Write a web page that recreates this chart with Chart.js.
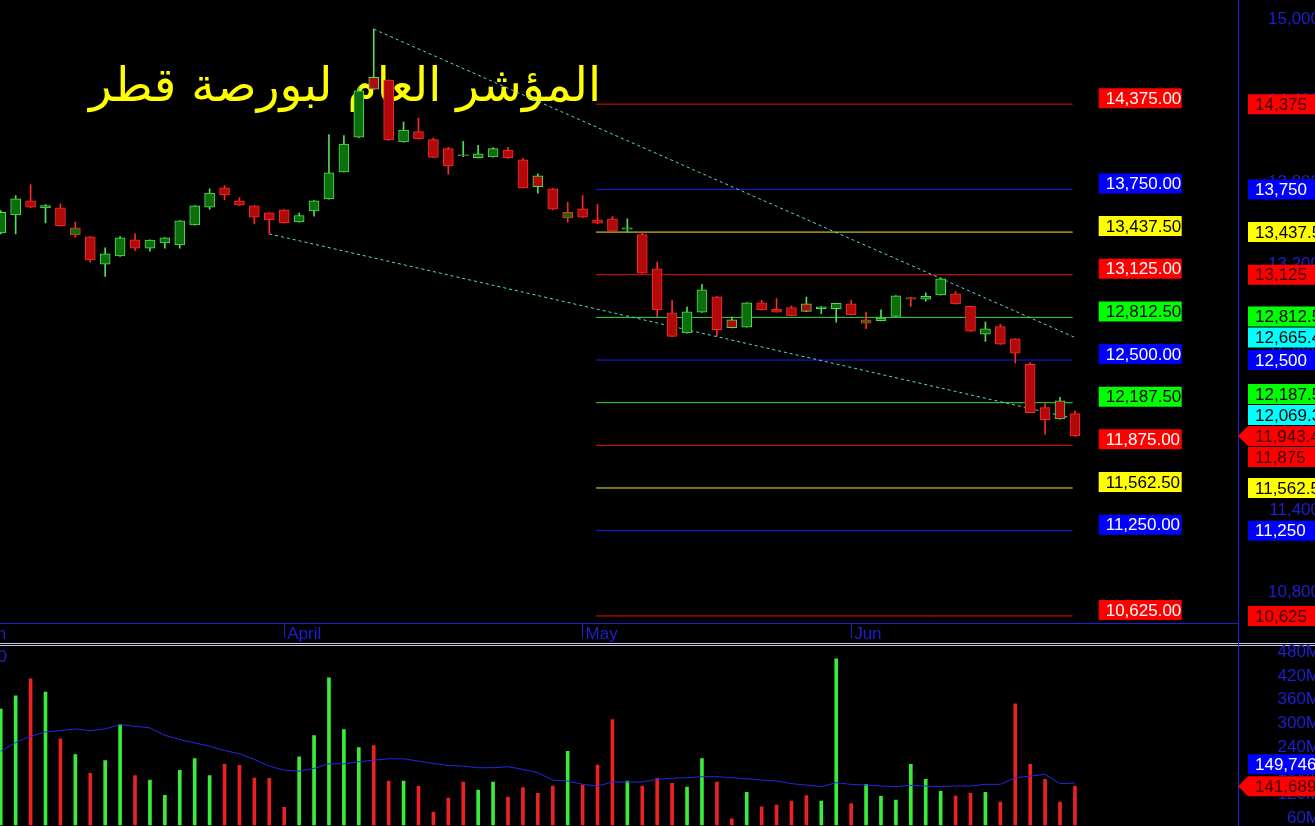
<!DOCTYPE html>
<html>
<head>
<meta charset="utf-8">
<script src="https://cdn.jsdelivr.net/npm/chart.js@4.4.1/dist/chart.umd.min.js"></script>
<style>
  html, body { margin: 0; padding: 0; background: #000; overflow: hidden; width: 1315px; height: 826px; }
  canvas { position: absolute; left: 0; }
  #price { top: 0; }
  #volume { top: 642px; }
</style>
</head>
<body>
<canvas id="price" width="1320" height="644"></canvas>
<canvas id="volume" width="1320" height="184"></canvas>
<script>
// ---- data ----
const title = 'المؤشر العام لبورصة قطر';

const opens  = [13432,13564,13666,13615,13615,13417,13403,13203,13263,13381,13320,13359,13344,13490,13620,13761,13666,13629,13578,13600,
                13512,13593,13681,13878,14132,14571,14551,14098,14173,14115,14049,14003,13983,13988,14039,13966,13849,13754,13541,13607,
                13527,13534,13459,13420,13168,12846,12698,12851,12963,12795,12741,12920,12871,12885,12912,12876,12876,12912,12771,12788,
                12820,12946,12946,12978,12985,12893,12690,12746,12656,12468,12151,12202,12107];
const highs  = [13595,13705,13785,13639,13644,13510,13405,13322,13405,13424,13380,13397,13522,13631,13754,13778,13690,13631,13580,13602,
                13576,13668,14151,14144,14498,14924,14553,14244,14273,14127,14059,14102,14073,14056,14059,13978,13864,13756,13656,13705,
                13639,13551,13534,13432,13217,12937,12888,13054,12965,12815,12921,12937,12951,12898,12961,12892,12916,12937,12851,12868,
                12972,12960,12993,13102,13002,12895,12778,12761,12658,12481,12181,12227,12127];
const lows   = [13424,13424,13615,13505,13480,13400,13217,13112,13260,13302,13298,13320,13320,13488,13603,13673,13632,13498,13424,13503,
                13510,13554,13678,13876,14130,14483,14110,14096,14118,13983,13861,13990,13981,13986,13978,13759,13722,13602,13510,13544,
                13500,13442,13437,13135,12815,12671,12696,12849,12673,12735,12740,12866,12850,12823,12855,12839,12778,12830,12729,12786,
                12818,12893,12932,12976,12910,12710,12637,12615,12478,12112,11956,12066,11940];
const closes = [13583,13681,13620,13632,13483,13468,13234,13278,13395,13320,13378,13395,13520,13629,13724,13710,13634,13546,13527,13505,
                13559,13666,13871,14083,14473,14485,14112,14185,14120,13985,13922,13998,14010,14049,13981,13761,13771,13605,13583,13546,
                13502,13444,13468,13137,12868,12673,12854,13015,12722,12737,12920,12868,12851,12824,12856,12890,12915,12832,12795,12807,
                12971,12958,12966,13095,12912,12712,12729,12617,12551,12115,12063,12068,11943.46];

// volume in millions, and its 20-bar average
const volumes = [336.8,370.2,413,379.5,261.3,221.8,174,206.7,297.3,168.3,157.2,118.7,181.6,211.8,168.3,196.7,194.2,162.2,161.5,88.5,
                 216,269.6,415.5,284.7,239.4,244.5,154.7,154.7,141.3,76,112,152.2,132,152.2,114.4,138,123.7,142.1,230.1,144.6,
                 194.9,309.8,154.7,142.1,161.5,148.9,139.6,211.8,152.2,59.1,126.3,89.3,94.3,104.4,118,104.4,463.3,97.8,146.4,116.2,
                 106.9,196.7,159,128.8,117,123.7,126.3,101.9,350.1,196.7,159,101.9,141.689];
const volumeAvg = [230.1,252,267.8,278.9,282.2,286.5,282.2,286.5,297.3,293,289,270.4,259.5,251.2,242.7,231.9,223.6,209.2,192.4,182.3,
                   179.8,186.6,198.4,198.4,203.5,207.5,211,211,205,199.2,194.2,192.4,188.4,188.4,190.9,184.1,175.8,157.2,154.7,146.4,
                   142.1,152.2,152.2,152.2,159,161.5,163.2,165.7,165.7,163.2,160.7,157.2,154.7,148.1,144.6,140.6,150.6,146.4,144.6,142.1,
                   140.6,143.9,142.1,140.6,142.1,142.1,146.4,146.4,163.2,167.2,171.5,148.1,149.746];
const avgPeriod = 20;

const monthNames = ['March', 'April', 'May', 'Jun'];
const monthStartBars = [-3, 19, 39, 57];

const levelValues = [14375, 13750, 13437.5, 13125, 12812.5, 12500, 12187.5, 11875, 11562.5, 11250, 10625];
const levelFromBar = 39.9;
const levelToBar = 71.85;

const upperTrendBars = [25, 72];
const upperTrendValues = [14924, 12665.42];
const lowerTrendBars = [18, 72];
const lowerTrendValues = [13424, 12069.37];

const priceTicks = [10800, 11400, 12000, 12600, 13200, 13800, 14400, 15000];
const volumeTicks = [60, 120, 180, 240, 300, 360, 420, 480];

// ---- styling ----
const levelColorNames = ['red', 'blue', 'yellow', 'red', 'green', 'blue', 'green', 'red', 'yellow', 'blue', 'red'];
const lineColor = { red: '#e81010', blue: '#1c1cf0', yellow: '#f0f020', green: '#30e030' };
const tagBg = { red: '#ff0000', blue: '#0000ff', yellow: '#ffff00', green: '#00ff00', cyan: '#00ffff' };
const tagFgAxis = { red: '#3a0000', blue: '#ffffff', yellow: '#000000', green: '#000000', cyan: '#000000' };
const tagFgPlot = { red: '#ffffff', blue: '#ffffff', yellow: '#000000', green: '#000000', cyan: '#000000' };
const axisBlue = '#1e1ed2';
const numFont = '"Liberation Sans", Arial, sans-serif';

const bars = opens.map((_, i) => i);
const bodyUp = closes.map((c, i) => c >= opens[i]);
const edgeUp = closes.map((c, i) => i === 0 ? bodyUp[0] : c >= closes[i - 1]);
const xMin = -0.05, xMax = 82.93;

const fmtPrice = v => Number.isInteger(v) ? v.toLocaleString('en-US')
  : v.toLocaleString('en-US', { minimumFractionDigits: 2, maximumFractionDigits: 2 });
const fmtLevel = v => v.toLocaleString('en-US', { minimumFractionDigits: 2, maximumFractionDigits: 2 });

function drawTag(ctx, x0, x1, y, h, bg, fg, text, pointerX) {
  ctx.fillStyle = bg;
  ctx.beginPath();
  if (pointerX !== undefined) {
    ctx.moveTo(pointerX, y);
    ctx.lineTo(x0, y - h / 2);
  } else {
    ctx.moveTo(x0, y - h / 2);
  }
  ctx.lineTo(x1, y - h / 2);
  ctx.lineTo(x1, y + h / 2);
  ctx.lineTo(x0, y + h / 2);
  ctx.closePath();
  ctx.fill();
  ctx.fillStyle = fg;
  ctx.textAlign = 'left';
  ctx.textBaseline = 'middle';
  ctx.fillText(text, x0 + 7, y + 1);
}

// push axis tags apart so they don't overlap, keeping the anchor tag in place
function stackTags(tags, anchor, gap) {
  tags.sort((a, b) => a.y0 - b.y0);
  const k = tags.indexOf(anchor);
  anchor.y = anchor.y0;
  for (let i = k + 1; i < tags.length; i++) tags[i].y = Math.max(tags[i].y0, tags[i - 1].y + gap);
  for (let i = k - 1; i >= 0; i--) tags[i].y = Math.min(tags[i].y0, tags[i + 1].y - gap);
}

const priceDecor = {
  id: 'priceDecor',
  beforeDatasetsDraw(chart) {
    const ctx = chart.ctx;
    const x = chart.scales.x;
    ctx.save();
    ctx.font = '50px "DejaVu Sans"';
    const w = ctx.measureText(title).width;
    const size = 50 * 512 / w;
    ctx.font = size.toFixed(1) + 'px "DejaVu Sans"';
    ctx.fillStyle = '#ffff00';
    ctx.textAlign = 'right';
    ctx.textBaseline = 'alphabetic';
    ctx.fillText(title, x.getPixelForValue(levelFromBar) + 5, 101);
    ctx.restore();
  },
  afterDatasetsDraw(chart) {
    const ctx = chart.ctx;
    const x = chart.scales.x, y = chart.scales.y;
    const x0 = x.getPixelForValue(levelToBar) + 26;
    ctx.save();
    ctx.font = '17px ' + numFont;
    levelValues.forEach((v, i) => {
      const c = levelColorNames[i];
      drawTag(ctx, x0, x0 + 83, y.getPixelForValue(v) - 6, 20, tagBg[c], tagFgPlot[c], fmtLevel(v));
    });
    ctx.restore();
  },
  afterDraw(chart) {
    const ctx = chart.ctx;
    const x = chart.scales.x, y = chart.scales.y;
    ctx.save();
    // month labels under the time axis
    ctx.font = '17px ' + numFont;
    ctx.fillStyle = axisBlue;
    ctx.textAlign = 'left';
    ctx.textBaseline = 'middle';
    monthStartBars.forEach((b, i) => ctx.fillText(monthNames[i], x.getPixelForValue(b) + 3, x.top + 11));

    const tags = levelValues.map((v, i) => ({ v, c: levelColorNames[i] }));
    tags.push({ v: upperTrendValues[1], c: 'cyan' }, { v: lowerTrendValues[1], c: 'cyan' });
    const last = closes.length - 1;
    const anchor = { v: closes[last], c: closes[last] < closes[last - 1] ? 'red' : 'green', pointer: true };
    tags.push(anchor);
    tags.forEach(t => { t.y0 = y.getPixelForValue(t.v); });
    stackTags(tags, anchor, 21);
    tags.forEach(t => drawTag(ctx, y.left + 10, chart.width, t.y, 20, tagBg[t.c], tagFgAxis[t.c],
      fmtPrice(t.v), t.pointer ? y.left : undefined));
    ctx.strokeStyle = axisBlue;
    ctx.lineWidth = 1;
    ctx.beginPath();
    ctx.moveTo(y.left + 0.5, y.bottom);
    ctx.lineTo(y.left + 0.5, chart.height);
    ctx.stroke();
    ctx.restore();
  }
};

const levelSets = levelValues.map((v, i) => ({
  type: 'line',
  data: [{ x: levelFromBar, y: v }, { x: levelToBar, y: v }],
  borderColor: lineColor[levelColorNames[i]],
  borderWidth: 1,
  pointRadius: 0,
  order: 3
}));
const trendSet = (bs, vs) => ({
  type: 'line',
  data: bs.map((b, i) => ({ x: b, y: vs[i] })),
  borderColor: '#58d8d8',
  borderWidth: 1,
  borderDash: [3, 3],
  pointRadius: 0,
  order: 2
});

// tiny lineHeight keeps Chart.js from padding the plot area for the tick labels
const tickFont = { size: 17, family: numFont, lineHeight: 0.1 };

new Chart(document.getElementById('price'), {
  type: 'bar',
  data: {
    datasets: [
      ...levelSets,
      trendSet(upperTrendBars, upperTrendValues),
      trendSet(lowerTrendBars, lowerTrendValues),
      {
        data: bars.map(i => ({ x: i, y: [lows[i], highs[i]] })),
        backgroundColor: edgeUp.map(u => u ? '#55dd55' : '#ff2828'),
        barThickness: 1,
        grouped: false,
        order: 1
      },
      {
        data: bars.map(i => ({ x: i, y: [opens[i], closes[i]] })),
        backgroundColor: bodyUp.map(u => u ? '#0c6e0c' : '#b00a0a'),
        borderColor: edgeUp.map(u => u ? '#55dd55' : '#ff2828'),
        borderWidth: 1,
        borderSkipped: false,
        barThickness: 10,
        grouped: false,
        order: 0
      }
    ]
  },
  options: {
    responsive: false,
    animation: false,
    devicePixelRatio: 1,
    layout: { padding: 0, autoPadding: false },
    plugins: { legend: { display: false }, tooltip: { enabled: false } },
    scales: {
      x: {
        type: 'linear',
        min: xMin,
        max: xMax,
        offset: false,
        afterBuildTicks: s => { s.ticks = monthStartBars.map(v => ({ value: v })); },
        afterFit: s => { s.height = 21; },
        grid: { offset: false, drawOnChartArea: false, drawTicks: true, tickLength: 15, color: axisBlue },
        border: { color: axisBlue },
        ticks: { display: false }
      },
      y: {
        position: 'right',
        min: 10573.3,
        max: 15131.7,
        beginAtZero: false,
        afterBuildTicks: s => { s.ticks = priceTicks.map(v => ({ value: v })); },
        afterFit: s => { s.width = 82; },
        grid: { drawOnChartArea: false, drawTicks: true, tickLength: 30, tickColor: 'rgba(0,0,0,0)' },
        border: { color: axisBlue },
        ticks: {
          crossAlign: 'far',
          padding: 0,
          color: axisBlue,
          font: tickFont,
          callback: v => v.toLocaleString('en-US')
        }
      }
    }
  },
  plugins: [priceDecor]
});

const volumeDecor = {
  id: 'volumeDecor',
  beforeDraw(chart) {
    const ctx = chart.ctx;
    ctx.save();
    ctx.strokeStyle = '#c8c8f4';
    ctx.lineWidth = 1;
    ctx.beginPath();
    ctx.moveTo(0, 1.5); ctx.lineTo(chart.width, 1.5);
    ctx.moveTo(0, 3.5); ctx.lineTo(chart.width, 3.5);
    ctx.stroke();
    ctx.fillStyle = axisBlue;
    ctx.font = '17px ' + numFont;
    ctx.textAlign = 'right';
    ctx.textBaseline = 'top';
    ctx.fillText(String(avgPeriod), 7, 7);
    ctx.restore();
  },
  afterDraw(chart) {
    const ctx = chart.ctx;
    const y = chart.scales.y;
    const last = volumes.length - 1;
    const anchor = { v: volumes[last], c: bodyUp[last] ? 'green' : 'red', pointer: true };
    const avgTag = { v: volumeAvg[last], c: 'blue' };
    const tags = [anchor, avgTag];
    tags.forEach(t => { t.y0 = y.getPixelForValue(t.v); });
    stackTags(tags, anchor, 22);
    ctx.save();
    ctx.font = '17px ' + numFont;
    tags.forEach(t => drawTag(ctx, y.left + 10, chart.width, t.y, 20, tagBg[t.c], tagFgAxis[t.c],
      Math.round(t.v * 1000).toLocaleString('en-US'), t.pointer ? y.left : undefined));
    ctx.strokeStyle = axisBlue;
    ctx.beginPath();
    ctx.moveTo(y.left + 0.5, 0);
    ctx.lineTo(y.left + 0.5, y.top);
    ctx.stroke();
    ctx.restore();
  }
};

new Chart(document.getElementById('volume'), {
  type: 'bar',
  data: {
    datasets: [
      {
        type: 'line',
        data: bars.map(i => ({ x: i, y: volumeAvg[i] })),
        borderColor: '#2626ea',
        borderWidth: 1,
        pointRadius: 0,
        order: 0
      },
      {
        data: bars.map(i => ({ x: i, y: volumes[i] })),
        backgroundColor: bodyUp.map(u => u ? '#38ec38' : '#ec2222'),
        barThickness: 3,
        grouped: false,
        order: 1
      }
    ]
  },
  options: {
    responsive: false,
    animation: false,
    devicePixelRatio: 1,
    layout: { padding: { top: 5, left: 0, right: 0, bottom: 0 }, autoPadding: false },
    plugins: { legend: { display: false }, tooltip: { enabled: false } },
    scales: {
      x: { type: 'linear', min: xMin, max: xMax, offset: false, display: false },
      y: {
        position: 'right',
        min: 43.3,
        max: 493.4,
        beginAtZero: false,
        afterBuildTicks: s => { s.ticks = volumeTicks.map(v => ({ value: v })); },
        afterFit: s => { s.width = 82; },
        grid: { drawOnChartArea: false, drawTicks: true, tickLength: 38, tickColor: 'rgba(0,0,0,0)' },
        border: { color: axisBlue },
        ticks: {
          crossAlign: 'far',
          padding: 0,
          color: axisBlue,
          font: tickFont,
          callback: v => v + 'M'
        }
      }
    }
  },
  plugins: [volumeDecor]
});
</script>
</body>
</html>
